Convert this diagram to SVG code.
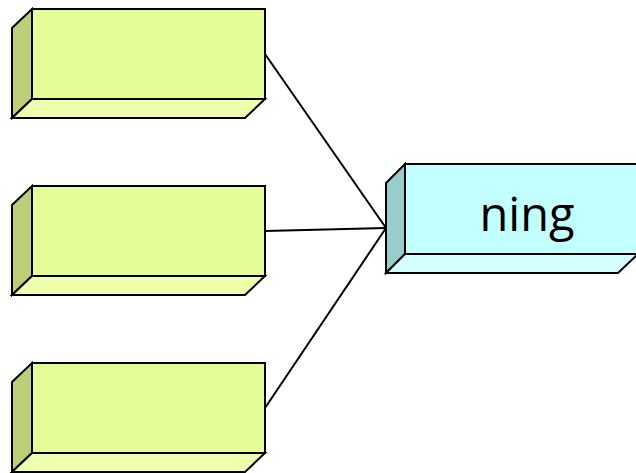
<svg xmlns="http://www.w3.org/2000/svg" width="636" height="473" viewBox="0 0 636 473">
<style>
.e{stroke:#000;stroke-width:2;stroke-linejoin:miter}
.gf{fill:#E3FD97}.gs{fill:#BCCF78}.gb{fill:#EEFFAE}
.cf{fill:#C4FFFF}.cs{fill:#99CCCC}.cb{fill:#D3FFFF}
.c{stroke:#000;stroke-width:2;fill:none}
</style>
<rect width="636" height="473" fill="#fff"/>
<g id="connectors">
<line class="c" x1="265" y1="54" x2="386" y2="228"/>
<line class="c" x1="265" y1="231" x2="386" y2="228"/>
<line class="c" x1="265" y1="408" x2="386" y2="228"/>
</g>
<g id="box1">
<polygon class="e gs" points="12,28 32,9 32,99 12,118"/>
<polygon class="e gb" points="12,118 32,99 265,99 245,118"/>
<rect class="e gf" x="32" y="9" width="233" height="90"/>
</g>
<g id="box2">
<polygon class="e gs" points="12,205 32,186 32,276 12,295"/>
<polygon class="e gb" points="12,295 32,276 265,276 245,295"/>
<rect class="e gf" x="32" y="186" width="233" height="90"/>
</g>
<g id="box3">
<polygon class="e gs" points="12,382 32,363 32,453 12,472"/>
<polygon class="e gb" points="12,472 32,453 265,453 245,472"/>
<rect class="e gf" x="32" y="363" width="233" height="90"/>
</g>
<g id="ning">
<polygon class="e cs" points="386,183 405,164 405,254 386,273"/>
<polygon class="e cb" points="386,273 405,254 638,254 618,273"/>
<rect class="e cf" x="405" y="164" width="233" height="90"/>
<text x="527" y="231" text-anchor="middle" font-family="'Open Sans','DejaVu Sans',sans-serif" font-size="47" font-weight="500" fill="#000">ning</text>
</g>
</svg>
